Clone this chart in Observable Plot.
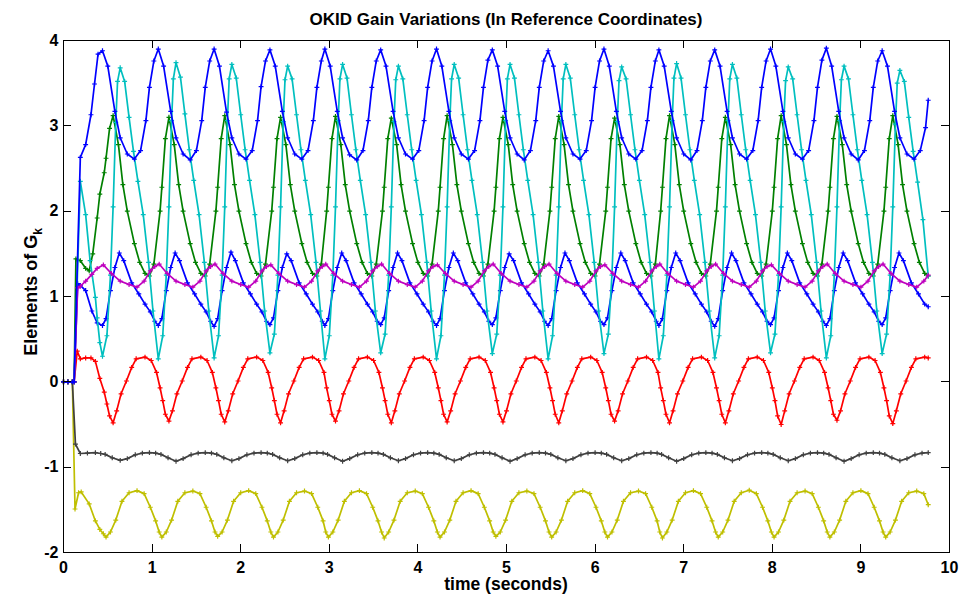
<!DOCTYPE html>
<html><head><meta charset="utf-8">
<script src="https://cdn.jsdelivr.net/npm/d3@7"></script>
<script src="https://cdn.jsdelivr.net/npm/@observablehq/plot@0.6"></script>
<style>body{margin:0;background:#fff;} svg{display:block;}</style>
</head><body><div id="chart"></div>
<script>
// ---- axis ticks ----
const xTicks = [0,1,2,3,4,5,6,7,8,9,10];
const yTicks = [-2,-1,0,1,2,3,4];

const cycleStart = [0.44, 1.07, 1.70, 2.33, 2.95, 3.58, 4.21, 4.84, 5.47, 6.10, 6.72, 7.35, 7.98, 8.61, 9.24];
const tEnd = 9.76;

// ---- blue (upper) ----
const blueUpperHead = [[0,0],[0.05,0],[0.10,0],[0.12,0],[0.19,2.63],[0.25,2.78],[0.31,3.13],[0.35,3.49],[0.39,3.84]];
const blueUpperPhase = [0, 0.06, 0.14, 0.20, 0.28, 0.36, 0.43, 0.49, 0.53, 0.58];
const blueUpperCycles = [
  [3.88,3.70,3.17,2.86,2.67,2.61,2.71,3.06,3.45,3.76],
  [3.90,3.70,3.17,2.86,2.67,2.60,2.71,3.06,3.45,3.76],
  [3.90,3.70,3.16,2.86,2.67,2.61,2.71,3.06,3.46,3.76],
  [3.89,3.70,3.17,2.86,2.67,2.61,2.71,3.06,3.45,3.76],
  [3.90,3.70,3.17,2.86,2.66,2.60,2.71,3.06,3.45,3.76],
  [3.89,3.70,3.17,2.86,2.67,2.61,2.71,3.06,3.45,3.76],
  [3.90,3.70,3.17,2.86,2.67,2.61,2.71,3.06,3.45,3.77],
  [3.89,3.70,3.17,2.86,2.67,2.60,2.71,3.06,3.45,3.76],
  [3.88,3.70,3.17,2.86,2.67,2.61,2.71,3.06,3.45,3.76],
  [3.90,3.70,3.17,2.86,2.67,2.61,2.71,3.06,3.45,3.76],
  [3.89,3.70,3.17,2.86,2.67,2.60,2.71,3.06,3.45,3.76],
  [3.89,3.70,3.17,2.86,2.67,2.61,2.71,3.06,3.45,3.76],
  [3.90,3.70,3.17,2.86,2.67,2.61,2.71,3.06,3.45,3.77],
  [3.91,3.70,3.17,2.86,2.67,2.60,2.71,3.06,3.45,3.76],
  [3.88,3.70,3.17,2.86,2.67,2.61,2.71,2.98,3.45,3.76]
];
const blueUpperEnd = 3.30;

// ---- cyan ----
const cyanHead = [[0,0],[0.05,0],[0.10,0],[0.12,0],[0.19,2.35],[0.25,1.96],[0.30,1.42],[0.36,0.99],[0.38,0.75],[0.41,0.46]];
const cyanPhase = [0, 0.05, 0.09, 0.12, 0.15, 0.17, 0.20, 0.25, 0.30, 0.35, 0.40, 0.46, 0.52, 0.57];
const cyanCycles = [
  [0.30,0.54,1.25,2.05,3.04,3.52,3.68,3.52,3.10,2.70,2.35,1.96,1.40,0.83],
  [0.27,0.54,1.25,2.05,3.06,3.55,3.74,3.57,3.14,2.72,2.36,1.96,1.40,0.83],
  [0.28,0.54,1.25,2.05,3.06,3.55,3.72,3.56,3.13,2.72,2.36,1.96,1.40,0.83],
  [0.34,0.56,1.25,2.05,3.05,3.54,3.70,3.55,3.13,2.72,2.36,1.96,1.40,0.83],
  [0.27,0.54,1.25,2.05,3.06,3.55,3.72,3.56,3.13,2.72,2.36,1.96,1.40,0.83],
  [0.34,0.56,1.25,2.05,3.05,3.54,3.70,3.55,3.13,2.72,2.36,1.96,1.40,0.83],
  [0.27,0.54,1.25,2.05,3.06,3.55,3.72,3.56,3.13,2.72,2.36,1.96,1.40,0.83],
  [0.33,0.56,1.25,2.05,3.06,3.55,3.72,3.56,3.13,2.72,2.36,1.96,1.40,0.83],
  [0.27,0.54,1.25,2.05,3.06,3.55,3.72,3.56,3.13,2.72,2.36,1.96,1.40,0.83],
  [0.33,0.56,1.25,2.05,3.05,3.53,3.69,3.55,3.13,2.72,2.36,1.96,1.40,0.83],
  [0.27,0.54,1.25,2.05,3.06,3.56,3.73,3.56,3.13,2.72,2.36,1.96,1.40,0.83],
  [0.28,0.54,1.25,2.05,3.06,3.55,3.72,3.56,3.13,2.72,2.36,1.96,1.40,0.83],
  [0.34,0.56,1.25,2.05,3.05,3.53,3.69,3.55,3.13,2.72,2.36,1.96,1.40,0.83],
  [0.28,0.54,1.25,2.05,3.06,3.54,3.70,3.55,3.13,2.72,2.36,1.96,1.40,0.83],
  [0.33,0.56,1.25,2.05,3.02,3.50,3.65,3.52,3.10,2.70,2.34,1.90,1.40,0.83]
];
const cyanEnd = 1.24;

// ---- green ----
const greenHead = [[0,0],[0.05,0],[0.10,0],[0.12,0],[0.14,1.44],[0.19,1.42],[0.25,1.33],[0.29,1.30],[0.33,1.50],[0.38,1.92],[0.41,2.20]];
const greenPhase = [0.02, 0.04, 0.08, 0.12, 0.18, 0.23, 0.28, 0.36, 0.42, 0.48, 0.53, 0.58];
const greenCycles = [
  [2.45,2.62,2.97,3.12,2.78,2.31,2.00,1.62,1.40,1.27,1.24,1.38],
  [2.00,2.28,2.85,3.10,2.78,2.31,2.00,1.62,1.40,1.27,1.24,1.38],
  [2.00,2.28,2.85,3.12,2.78,2.31,2.00,1.62,1.40,1.27,1.24,1.38],
  [2.00,2.28,2.85,3.10,2.78,2.31,2.00,1.62,1.40,1.27,1.24,1.38],
  [2.00,2.28,2.85,3.11,2.78,2.31,2.00,1.62,1.40,1.27,1.24,1.38],
  [2.00,2.28,2.85,3.09,2.78,2.31,2.00,1.62,1.40,1.27,1.24,1.38],
  [2.00,2.28,2.85,3.12,2.78,2.31,2.00,1.62,1.40,1.27,1.24,1.38],
  [2.00,2.28,2.85,3.10,2.78,2.31,2.00,1.62,1.40,1.27,1.24,1.38],
  [2.00,2.28,2.85,3.11,2.78,2.31,2.00,1.62,1.40,1.27,1.24,1.38],
  [2.00,2.28,2.85,3.09,2.78,2.31,2.00,1.62,1.40,1.27,1.24,1.38],
  [2.00,2.28,2.85,3.12,2.78,2.31,2.00,1.62,1.40,1.27,1.24,1.38],
  [2.00,2.28,2.85,3.10,2.78,2.31,2.00,1.62,1.40,1.27,1.24,1.38],
  [2.00,2.28,2.85,3.12,2.78,2.31,2.00,1.62,1.40,1.27,1.24,1.38],
  [2.00,2.28,2.85,3.11,2.78,2.31,2.00,1.62,1.40,1.27,1.24,1.38],
  [2.00,2.28,2.85,3.12,2.78,2.31,2.00,1.62,1.40,1.27,1.24,1.38]
];
const greenEnd = 1.24;

// ---- blue (lower) ----
const blueLowerHead = [[0,0],[0.05,0],[0.10,0],[0.12,0],[0.16,1.15],[0.19,1.13],[0.25,1.07],[0.32,0.83],[0.38,0.69]];
const blueLowerPhase = [0, 0.04, 0.09, 0.14, 0.19, 0.24, 0.33, 0.41, 0.48, 0.54, 0.59];
const blueLowerCycles = [
  [0.66,0.74,1.07,1.34,1.51,1.42,1.16,1.03,0.91,0.82,0.71],
  [0.66,0.74,1.07,1.34,1.51,1.42,1.16,1.03,0.91,0.82,0.71],
  [0.65,0.74,1.07,1.34,1.52,1.42,1.16,1.03,0.91,0.82,0.71],
  [0.67,0.75,1.07,1.34,1.50,1.42,1.16,1.03,0.91,0.82,0.71],
  [0.66,0.74,1.07,1.34,1.51,1.42,1.16,1.03,0.91,0.82,0.71],
  [0.67,0.75,1.07,1.34,1.51,1.42,1.16,1.03,0.91,0.82,0.71],
  [0.66,0.74,1.07,1.34,1.51,1.42,1.16,1.03,0.91,0.82,0.71],
  [0.67,0.75,1.07,1.34,1.50,1.42,1.16,1.03,0.91,0.82,0.71],
  [0.66,0.74,1.07,1.34,1.51,1.42,1.16,1.03,0.91,0.82,0.71],
  [0.67,0.75,1.07,1.34,1.51,1.42,1.16,1.03,0.91,0.82,0.71],
  [0.66,0.74,1.07,1.34,1.51,1.42,1.16,1.03,0.91,0.82,0.71],
  [0.65,0.74,1.07,1.34,1.51,1.42,1.16,1.03,0.91,0.82,0.71],
  [0.67,0.75,1.07,1.34,1.51,1.42,1.16,1.03,0.91,0.82,0.71],
  [0.66,0.74,1.07,1.34,1.51,1.42,1.16,1.03,0.91,0.82,0.71],
  [0.67,0.75,1.07,1.34,1.51,1.42,1.16,1.03,0.91,0.82,0.71]
];
const blueLowerEnd = 0.88;

// ---- magenta ----
const magentaHead = [[0,0],[0.05,0],[0.10,0],[0.12,0],[0.16,1.10],[0.19,1.12],[0.25,1.18],[0.32,1.26],[0.38,1.33]];
const magentaPhase = [0.01, 0.10, 0.20, 0.30, 0.39, 0.47, 0.54, 0.59];
const magentaCycles = [
  [1.37,1.27,1.18,1.14,1.11,1.18,1.30,1.35],
  [1.38,1.27,1.18,1.14,1.11,1.18,1.30,1.35],
  [1.38,1.27,1.18,1.14,1.11,1.18,1.30,1.35],
  [1.37,1.27,1.18,1.14,1.11,1.18,1.30,1.35],
  [1.38,1.27,1.18,1.14,1.11,1.18,1.30,1.35],
  [1.38,1.27,1.18,1.14,1.11,1.18,1.30,1.35],
  [1.37,1.27,1.18,1.14,1.11,1.18,1.30,1.35],
  [1.38,1.27,1.18,1.14,1.11,1.18,1.30,1.35],
  [1.38,1.27,1.18,1.14,1.11,1.18,1.30,1.35],
  [1.37,1.27,1.18,1.14,1.11,1.18,1.30,1.35],
  [1.38,1.27,1.18,1.14,1.11,1.18,1.30,1.35],
  [1.38,1.27,1.18,1.14,1.11,1.18,1.30,1.35],
  [1.37,1.27,1.18,1.14,1.11,1.18,1.30,1.35],
  [1.38,1.27,1.18,1.14,1.11,1.18,1.30,1.35],
  [1.38,1.27,1.18,1.14,1.11,1.18,1.30,1.35]
];
const magentaEnd = 1.25;

// ---- red ----
const redHead = [[0,0],[0.05,0],[0.10,0],[0.12,0],[0.155,0.36],[0.19,0.27],[0.25,0.28],[0.31,0.28],[0.36,0.24],[0.41,0.04]];
const redPhase = [0.02, 0.05, 0.08, 0.12, 0.16, 0.21, 0.27, 0.33, 0.38, 0.48, 0.55, 0.61];
const redCycles = [
  [-0.12,-0.26,-0.40,-0.48,-0.34,-0.14,0.01,0.17,0.27,0.29,0.25,0.11],
  [-0.07,-0.22,-0.38,-0.46,-0.34,-0.14,0.01,0.17,0.27,0.29,0.25,0.11],
  [-0.07,-0.22,-0.38,-0.47,-0.34,-0.14,0.01,0.17,0.27,0.29,0.25,0.11],
  [-0.07,-0.22,-0.38,-0.48,-0.34,-0.14,0.01,0.17,0.27,0.29,0.25,0.11],
  [-0.07,-0.22,-0.38,-0.46,-0.34,-0.14,0.01,0.17,0.27,0.29,0.25,0.11],
  [-0.07,-0.22,-0.38,-0.48,-0.34,-0.14,0.01,0.17,0.27,0.29,0.25,0.11],
  [-0.07,-0.22,-0.38,-0.47,-0.34,-0.14,0.01,0.17,0.27,0.29,0.25,0.11],
  [-0.07,-0.22,-0.38,-0.47,-0.34,-0.14,0.01,0.17,0.27,0.29,0.25,0.11],
  [-0.07,-0.22,-0.38,-0.48,-0.34,-0.14,0.01,0.17,0.27,0.29,0.25,0.11],
  [-0.07,-0.22,-0.38,-0.46,-0.34,-0.14,0.01,0.17,0.27,0.29,0.25,0.11],
  [-0.07,-0.22,-0.38,-0.48,-0.34,-0.14,0.01,0.17,0.27,0.29,0.25,0.11],
  [-0.07,-0.22,-0.38,-0.48,-0.34,-0.14,0.01,0.17,0.27,0.29,0.25,0.11],
  [-0.07,-0.22,-0.40,-0.50,-0.34,-0.14,0.01,0.17,0.27,0.29,0.25,0.11],
  [-0.07,-0.22,-0.38,-0.45,-0.34,-0.14,0.01,0.17,0.27,0.29,0.25,0.11],
  [-0.07,-0.22,-0.40,-0.49,-0.34,-0.14,0.01,0.17,0.27,0.29,0.25,0.11]
];
const redEnd = 0.28;

// ---- dark gray ----
const grayHead = [[0,0],[0.05,0],[0.10,0],[0.135,-0.73],[0.19,-0.84],[0.27,-0.835],[0.36,-0.83],[0.42,-0.84]];
const grayPhase = [0.03, 0.11, 0.20, 0.28, 0.37, 0.45, 0.53, 0.60];
const grayCycles = [
  [-0.85,-0.89,-0.92,-0.90,-0.855,-0.835,-0.83,-0.835],
  [-0.85,-0.89,-0.93,-0.90,-0.855,-0.835,-0.83,-0.835],
  [-0.85,-0.89,-0.925,-0.90,-0.855,-0.835,-0.83,-0.835],
  [-0.85,-0.89,-0.925,-0.90,-0.855,-0.835,-0.83,-0.835],
  [-0.85,-0.89,-0.93,-0.90,-0.855,-0.835,-0.83,-0.835],
  [-0.85,-0.89,-0.925,-0.90,-0.855,-0.835,-0.83,-0.835],
  [-0.85,-0.89,-0.925,-0.90,-0.855,-0.835,-0.83,-0.835],
  [-0.85,-0.89,-0.93,-0.90,-0.855,-0.835,-0.83,-0.835],
  [-0.85,-0.89,-0.925,-0.90,-0.855,-0.835,-0.83,-0.835],
  [-0.85,-0.89,-0.925,-0.90,-0.855,-0.835,-0.83,-0.835],
  [-0.85,-0.89,-0.93,-0.90,-0.855,-0.835,-0.83,-0.835],
  [-0.85,-0.89,-0.925,-0.90,-0.855,-0.835,-0.83,-0.835],
  [-0.85,-0.89,-0.925,-0.90,-0.855,-0.835,-0.83,-0.835],
  [-0.85,-0.89,-0.93,-0.90,-0.855,-0.835,-0.83,-0.835],
  [-0.85,-0.89,-0.925,-0.90,-0.855,-0.835,-0.83,-0.835]
];
const grayEnd = -0.83;

// ---- yellow ----
const yellowHead = [[0,0],[0.05,0],[0.10,0],[0.13,-1.49],[0.17,-1.30],[0.20,-1.29],[0.29,-1.43],[0.36,-1.63],[0.41,-1.73]];
const yellowPhase = [0.01, 0.04, 0.09, 0.15, 0.22, 0.30, 0.39, 0.47, 0.54, 0.60];
const yellowCycles = [
  [-1.78,-1.82,-1.76,-1.62,-1.40,-1.30,-1.275,-1.31,-1.47,-1.63],
  [-1.76,-1.82,-1.76,-1.62,-1.40,-1.30,-1.28,-1.31,-1.47,-1.63],
  [-1.76,-1.81,-1.76,-1.62,-1.40,-1.30,-1.275,-1.31,-1.47,-1.63],
  [-1.76,-1.82,-1.76,-1.62,-1.40,-1.30,-1.28,-1.31,-1.47,-1.63],
  [-1.76,-1.82,-1.76,-1.62,-1.40,-1.30,-1.275,-1.31,-1.47,-1.63],
  [-1.76,-1.83,-1.76,-1.62,-1.40,-1.30,-1.28,-1.31,-1.47,-1.63],
  [-1.76,-1.82,-1.76,-1.62,-1.40,-1.30,-1.275,-1.31,-1.47,-1.63],
  [-1.76,-1.81,-1.76,-1.62,-1.40,-1.30,-1.28,-1.31,-1.47,-1.63],
  [-1.76,-1.82,-1.76,-1.62,-1.40,-1.30,-1.275,-1.31,-1.47,-1.63],
  [-1.76,-1.82,-1.76,-1.62,-1.40,-1.30,-1.28,-1.31,-1.47,-1.63],
  [-1.76,-1.83,-1.76,-1.62,-1.40,-1.30,-1.275,-1.31,-1.47,-1.63],
  [-1.76,-1.82,-1.76,-1.62,-1.40,-1.30,-1.27,-1.31,-1.47,-1.63],
  [-1.76,-1.82,-1.76,-1.62,-1.40,-1.30,-1.28,-1.31,-1.47,-1.63],
  [-1.76,-1.82,-1.76,-1.62,-1.40,-1.30,-1.275,-1.31,-1.47,-1.63],
  [-1.76,-1.82,-1.76,-1.62,-1.40,-1.30,-1.28,-1.31,-1.47,-1.63]
];
const yellowEnd = -1.44;

// ---- assemble rows (t, value) from the read arrays ----
function build(head, phase, cycles, endValue) {
  const pts = head.map(([t, v]) => ({t, v}));
  cycles.forEach((row, k) => {
    row.forEach((v, j) => {
      const t = cycleStart[k] + phase[j];
      if (t < tEnd - 0.005) pts.push({t, v});
    });
  });
  pts.push({t: tEnd, v: endValue});
  return pts;
}

// MATLAB default colour order, drawn in that order
const series = [
  {color: "#0000FF", pts: build(blueLowerHead, blueLowerPhase, blueLowerCycles, blueLowerEnd)},
  {color: "#008000", pts: build(greenHead, greenPhase, greenCycles, greenEnd)},
  {color: "#FF0000", pts: build(redHead, redPhase, redCycles, redEnd)},
  {color: "#00BFBF", pts: build(cyanHead, cyanPhase, cyanCycles, cyanEnd)},
  {color: "#BF00BF", pts: build(magentaHead, magentaPhase, magentaCycles, magentaEnd)},
  {color: "#BFBF00", pts: build(yellowHead, yellowPhase, yellowCycles, yellowEnd)},
  {color: "#404040", pts: build(grayHead, grayPhase, grayCycles, grayEnd)},
  {color: "#0000FF", pts: build(blueUpperHead, blueUpperPhase, blueUpperCycles, blueUpperEnd)}
];

const marks = [];
for (const s of series) {
  marks.push(Plot.line(s.pts, {x: "t", y: "v", stroke: s.color, strokeWidth: 1.7}));
  marks.push(Plot.dot(s.pts, {x: "t", y: "v", symbol: "plus", r: 1.7, stroke: s.color, strokeWidth: 1.2}));
}
marks.push(Plot.axisX(xTicks, {tickSize: 0, tickPadding: 9, tickFormat: d => String(d), label: null, fontSize: 16}));
marks.push(Plot.axisY(yTicks, {tickSize: 0, tickPadding: 5, tickFormat: d => String(d), label: null, fontSize: 16}));
marks.push(Plot.frame({stroke: "#000", strokeWidth: 1}));

const plot = Plot.plot({
  width: 959,
  height: 597,
  marginLeft: 63,
  marginRight: 10,
  marginTop: 40,
  marginBottom: 45,
  x: {domain: [0, 10]},
  y: {domain: [-2, 4]},
  style: {fontFamily: "'Liberation Sans', Arial, sans-serif", fontSize: "16px", fontWeight: "bold", color: "#000", background: "#fff"},
  marks
});

const svg = d3.select(plot);
const sx = plot.scale("x"), sy = plot.scale("y");
const [x0, x1] = sx.range, [y0, y1] = sy.range; // y0 bottom, y1 top
const tickG = svg.append("g").attr("stroke", "#000").attr("stroke-width", 1);
for (const v of xTicks) {
  const x = Math.round(sx.apply(v)) + 0.5;
  tickG.append("line").attr("x1", x).attr("x2", x).attr("y1", y0).attr("y2", y0 - 8);
  tickG.append("line").attr("x1", x).attr("x2", x).attr("y1", y1).attr("y2", y1 + 8);
}
for (const v of yTicks) {
  const y = Math.round(sy.apply(v)) + 0.5;
  tickG.append("line").attr("y1", y).attr("y2", y).attr("x1", x0).attr("x2", x0 + 8);
  tickG.append("line").attr("y1", y).attr("y2", y).attr("x1", x1).attr("x2", x1 - 8);
}
const cx = (x0 + x1) / 2, cy = (y0 + y1) / 2;
svg.append("text").attr("x", cx).attr("y", 25).attr("text-anchor", "middle")
  .attr("font-size", 17).attr("font-weight", "bold").attr("fill", "#000")
  .text("OKID Gain Variations (In Reference Coordinates)");
svg.append("text").attr("x", cx).attr("y", 590).attr("text-anchor", "middle")
  .attr("font-size", 17.5).attr("font-weight", "bold").attr("fill", "#000")
  .text("time (seconds)");
const yl = svg.append("text").attr("transform", `translate(37,${cy - 4}) rotate(-90)`)
  .attr("text-anchor", "middle").attr("font-size", 18).attr("font-weight", "bold").attr("fill", "#000");
yl.append("tspan").text("Elements of G");
yl.append("tspan").attr("font-size", 12).attr("dy", 5).text("k");

document.getElementById("chart").appendChild(plot);
</script></body></html>
